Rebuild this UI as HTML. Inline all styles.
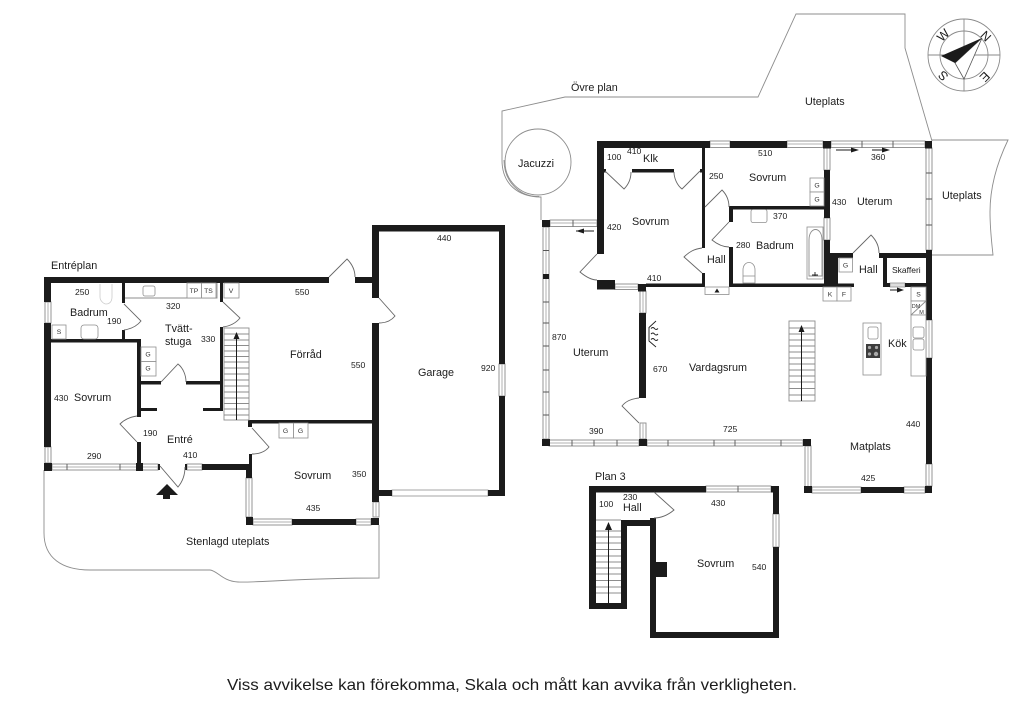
<!DOCTYPE html>
<html><head><meta charset="utf-8"><title>Planritning</title>
<style>
html,body{margin:0;padding:0;background:#fff}
svg{display:block}
text{font-family:"Liberation Sans",Arial,sans-serif;fill:#1c1c1c}
.r{font-size:10.8px}
.d{font-size:8.6px}
.f{font-size:6.8px;text-anchor:middle;fill:#333}
.b{fill:#1b1b1b;stroke:none}
.w{fill:#fff;stroke:#8a8a8a;stroke-width:.9}
.m{stroke:#b0b0b0;stroke-width:1;fill:none}
.t{stroke:#555;stroke-width:.9;fill:none}
.l{stroke:#8d8d8d;stroke-width:.9;fill:none}
.x{fill:#fff;stroke:#8f8f8f;stroke-width:.8}
.door{fill:none;stroke:#666;stroke-width:.9}
.a{stroke:#1b1b1b;stroke-width:1;fill:none}
.ah{fill:#1b1b1b;stroke:none}
</style></head>
<body>
<svg xmlns="http://www.w3.org/2000/svg" width="1024" height="724" viewBox="0 0 1024 724">
<rect width="1024" height="724" fill="#fff"/>

<!-- Outdoor lines -->
<path class="l" d="M44 470V533C44 558 62 570 90 570H210C218 571 222 581 238 582C255 583 300 578 379 578V525"/>
<path class="l" d="M541 220V197C518 197 502 184 502 160V111L565 97H758L796 14H905V48L932 141"/>
<path class="l" d="M539 196.500C520 197 504 182 504 160"/>
<path class="l" d="M932 140H1008C996 165 990 190 990 212C990 230 992 245 993 255H932"/>
<circle class="l" cx="538" cy="162" r="33"/>

<!-- LEFT PLAN: windows -->
<rect class="w" x="45" y="302" width="6" height="21"/><line class="m" x1="48" y1="302" x2="48" y2="323"/>
<rect class="w" x="45" y="447" width="6" height="16"/><line class="m" x1="48" y1="447" x2="48" y2="463"/>
<rect class="w" x="52" y="464" width="85" height="6"/><line class="m" x1="52" y1="467" x2="137" y2="467"/>
<line class="t" x1="67" y1="464" x2="67" y2="470"/><line class="t" x1="120" y1="464" x2="120" y2="470"/>
<rect class="w" x="142" y="464" width="16" height="6"/><line class="m" x1="142" y1="467" x2="158" y2="467"/>
<rect class="w" x="187" y="464" width="15" height="6"/><line class="m" x1="187" y1="467" x2="202" y2="467"/>
<rect class="w" x="246" y="478" width="6" height="39"/><line class="m" x1="249" y1="478" x2="249" y2="517"/>
<rect class="w" x="253" y="519" width="39" height="6"/><line class="m" x1="253" y1="522" x2="292" y2="522"/>
<rect class="w" x="356" y="519" width="15" height="6"/><line class="m" x1="356" y1="522" x2="371" y2="522"/>
<rect class="w" x="373" y="502" width="6" height="15"/><line class="m" x1="376" y1="502" x2="376" y2="517"/>
<rect class="w" x="499" y="364" width="6" height="32"/><line class="m" x1="502" y1="364" x2="502" y2="396"/>
<rect class="x" x="392" y="490" width="96" height="6"/>

<!-- LEFT PLAN: walls -->
<g class="b">
<rect x="44" y="277" width="285" height="6"/><rect x="355" y="277" width="18" height="6"/>
<rect x="44" y="277" width="7" height="25"/><rect x="44" y="323" width="7" height="124"/><rect x="44" y="463" width="8" height="8"/>
<rect x="122" y="283" width="3" height="20"/><rect x="122" y="330" width="3" height="10"/>
<rect x="51" y="339" width="90" height="3.500"/>
<rect x="137" y="339" width="4" height="78"/><rect x="137" y="442" width="4" height="22"/><rect x="136" y="463" width="7" height="8"/>
<rect x="141" y="381" width="20" height="3.500"/><rect x="186" y="381" width="36" height="3.500"/>
<rect x="220" y="283" width="3" height="19"/><rect x="220" y="327" width="3" height="84"/>
<rect x="140" y="408" width="17" height="3"/><rect x="203" y="408" width="20" height="3"/>
<rect x="158" y="464" width="2" height="6"/><rect x="185" y="464" width="2" height="6"/>
<rect x="202" y="464" width="50" height="6"/><rect x="246" y="464" width="6" height="14"/>
<rect x="249" y="454" width="3" height="12"/>
<rect x="248" y="420" width="4" height="7"/><rect x="248" y="420" width="125" height="3.500"/>
<rect x="246" y="517" width="7" height="8"/><rect x="292" y="519" width="64" height="6"/><rect x="371" y="518" width="8" height="7"/>
<rect x="372" y="225" width="7" height="73"/><rect x="372" y="323" width="7" height="179"/>
<rect x="372" y="225" width="133" height="6.500"/>
<rect x="499" y="225" width="6" height="139"/><rect x="499" y="396" width="6" height="100"/>
<rect x="379" y="490" width="13" height="6"/><rect x="488" y="490" width="17" height="6"/>
</g>

<!-- LEFT PLAN: doors -->
<path class="door" d="M124 304L141 321C137 326 131 329 124 330"/>
<path class="door" d="M223 302L240 318C236 323 230 326 223 327"/>
<path class="door" d="M161 382L178 364C183 368 186 375 186 382"/>
<path class="door" d="M137 416C130 417 124 420 120 424L137 442"/>
<path class="door" d="M160 466L178 487C183 481 185 475 185 467"/>
<path class="door" d="M252 428L269 447C265 452 259 454 252 454"/>
<path class="door" d="M329 277L347 259C352 264 355 270 355 277"/>
<path class="door" d="M379 298L395 316C391 321 385 323 379 323"/>
<path class="ah" d="M156 495L167 484L178 495H170V499H163V495Z"/>

<!-- LEFT PLAN: stairs -->
<g class="l">
<rect x="224" y="328" width="25" height="92"/>
<path d="M224 334H249M224 340H249M224 345.500H249M224 351H249M224 356.500H249M224 362H249M224 368H249M224 374H249M224 380H249M224 386H249M224 392H249M224 398H249M224 403.500H249M224 409H249M224 415H249"/>
</g>
<line class="a" x1="236.500" y1="420" x2="236.500" y2="336"/>
<path class="ah" d="M236.500 332L233.500 339H239.500Z"/>

<!-- LEFT PLAN: fixtures -->
<g>
<path class="l" d="M125 298H217V283"/>
<rect class="x" x="187" y="283" width="14.500" height="15"/><rect class="x" x="201.500" y="283" width="14.500" height="15"/>
<rect class="x" x="224" y="283" width="15" height="15"/>
<rect class="x" x="143" y="286" width="12" height="10" rx="2"/>
<rect class="x" x="52" y="325" width="14" height="14"/>
<rect class="x" x="81" y="325" width="17" height="14" rx="3"/>
<path d="M100 284V297C100 301 104 304 106 304C110 304 112 301 112 297V284" fill="none" stroke="#ccc" stroke-width=".8"/>
<rect class="x" x="141" y="347" width="15" height="14.500"/><rect class="x" x="141" y="361.500" width="15" height="14.500"/>
<rect class="x" x="279" y="423" width="14.500" height="15"/><rect class="x" x="293.500" y="423" width="14.500" height="15"/>
</g>
<text class="f" x="194" y="293">TP</text><text class="f" x="208.500" y="293">TS</text><text class="f" x="231" y="293">V</text>
<text class="f" x="59" y="334">S</text><text class="f" x="148" y="356.500">G</text><text class="f" x="148" y="370.500">G</text>
<text class="f" x="285.500" y="433">G</text><text class="f" x="300.500" y="433">G</text>

<!-- LEFT PLAN: text -->
<text class="r" x="51" y="269">Entréplan</text>
<text class="r" x="70" y="316">Badrum</text>
<text class="r" x="165" y="332">Tvätt-</text><text class="r" x="165" y="345">stuga</text>
<text class="r" x="74" y="401">Sovrum</text>
<text class="r" x="167" y="443">Entré</text>
<text class="r" x="290" y="358">Förråd</text>
<text class="r" x="418" y="376">Garage</text>
<text class="r" x="294" y="479">Sovrum</text>
<text class="r" x="186" y="545">Stenlagd uteplats</text>
<text class="d" x="75" y="295">250</text><text class="d" x="107" y="324">190</text><text class="d" x="166" y="309">320</text>
<text class="d" x="201" y="342">330</text><text class="d" x="54" y="401">430</text><text class="d" x="143" y="436">190</text>
<text class="d" x="87" y="459">290</text><text class="d" x="183" y="458">410</text>
<text class="d" x="295" y="295">550</text><text class="d" x="351" y="368">550</text><text class="d" x="352" y="477">350</text>
<text class="d" x="306" y="511">435</text><text class="d" x="437" y="241">440</text><text class="d" x="481" y="371">920</text>

<!-- MAIN PLAN: windows -->
<rect class="w" x="543" y="227" width="6" height="212"/><line class="m" x1="546" y1="227" x2="546" y2="439"/>
<path class="t" d="M543 250.500H549M543 302H549M543 323H549M543 346H549M543 370H549M543 392H549M543 415H549"/>
<rect class="w" x="550" y="220" width="47" height="6.500"/><line class="m" x1="550" y1="223" x2="597" y2="223"/><line class="t" x1="573" y1="220" x2="573" y2="226.500"/>
<rect class="w" x="549" y="440" width="90" height="6"/><line class="m" x1="549" y1="443" x2="639" y2="443"/>
<path class="t" d="M572 440V446M594 440V446M617 440V446"/>
<rect class="w" x="647" y="440" width="156" height="6"/><line class="m" x1="647" y1="443" x2="803" y2="443"/>
<path class="t" d="M668 440V446M714 440V446M735 440V446M781 440V446"/>
<rect class="w" x="805" y="446" width="6" height="41"/><line class="m" x1="808" y1="446" x2="808" y2="487"/>
<rect class="w" x="812" y="487" width="49" height="6"/><line class="m" x1="812" y1="490" x2="861" y2="490"/>
<rect class="w" x="904" y="487" width="21" height="6"/><line class="m" x1="904" y1="490" x2="925" y2="490"/>
<rect class="w" x="926" y="464" width="6" height="22"/><line class="m" x1="929" y1="464" x2="929" y2="486"/>
<rect class="w" x="926" y="320" width="6" height="38"/><line class="m" x1="929" y1="320" x2="929" y2="358"/>
<rect class="w" x="926" y="148" width="6" height="102"/><line class="m" x1="929" y1="148" x2="929" y2="250"/>
<path class="t" d="M926 173H932M926 199H932M926 225H932"/>
<rect class="w" x="831" y="141" width="94" height="6.500"/><line class="m" x1="831" y1="144" x2="925" y2="144"/>
<path class="t" d="M862 141V147.500M893 141V147.500"/>
<rect class="w" x="787" y="141" width="36" height="6.500"/><line class="m" x1="787" y1="144" x2="823" y2="144"/>
<rect class="w" x="710" y="141" width="20" height="6.500"/><line class="m" x1="710" y1="144" x2="730" y2="144"/>
<rect class="w" x="824" y="148" width="6" height="22"/><line class="m" x1="827" y1="148" x2="827" y2="170"/>
<rect class="w" x="824" y="218" width="6" height="22"/><line class="m" x1="827" y1="218" x2="827" y2="240"/>
<rect class="w" x="615" y="284" width="23" height="5.500"/><line class="m" x1="615" y1="287" x2="638" y2="287"/>
<rect class="w" x="640" y="291" width="6" height="22"/><line class="m" x1="643" y1="291" x2="643" y2="313"/>
<rect class="w" x="640" y="423" width="6" height="16"/><line class="m" x1="643" y1="423" x2="643" y2="439"/>
<rect class="x" x="890" y="283" width="15" height="4" style="fill:#ddd"/>

<!-- MAIN PLAN: walls -->
<g class="b">
<rect x="597" y="141" width="113" height="7"/><rect x="730" y="141" width="57" height="7"/>
<rect x="823" y="141" width="8" height="7.500"/><rect x="925" y="141" width="7" height="7.500"/>
<rect x="597" y="141" width="7" height="113"/>
<rect x="702" y="148" width="3" height="100"/><rect x="702" y="273" width="3" height="14"/>
<rect x="604" y="169" width="2" height="3.500"/><rect x="700" y="169" width="2" height="3.500"/>
<rect x="632" y="169" width="42" height="3.500"/>
<rect x="597" y="280" width="18" height="9.500"/><rect x="638" y="284" width="8" height="7.500"/>
<rect x="646" y="283.500" width="56" height="3.500"/>
<rect x="729" y="283.500" width="125" height="3.500"/>
<rect x="729" y="206" width="95" height="3.500"/><rect x="729" y="206" width="4" height="16"/><rect x="729" y="247" width="4" height="40"/>
<rect x="824" y="170" width="6" height="48"/><rect x="824" y="240" width="6" height="47"/>
<rect x="824" y="253" width="14" height="34"/>
<rect x="830" y="253" width="23" height="5"/><rect x="879" y="253" width="47" height="5"/>
<rect x="883" y="258" width="4" height="28"/><rect x="883" y="283" width="7" height="4"/><rect x="905" y="283" width="21" height="4"/>
<rect x="926" y="250" width="6" height="70"/><rect x="926" y="358" width="6" height="106"/><rect x="925" y="486" width="7" height="7"/>
<rect x="861" y="487" width="43" height="6"/><rect x="804" y="486" width="8" height="7"/>
<rect x="803" y="439" width="8" height="7"/><rect x="639" y="439" width="8" height="7"/><rect x="542" y="439" width="8" height="7"/>
<rect x="542" y="220" width="8" height="7"/><rect x="543" y="274" width="6" height="5"/>
<rect x="639" y="313" width="7" height="85"/>
</g>

<!-- MAIN PLAN: doors -->
<path class="door" d="M605 171L624 189C629 184 631 178 631 172"/>
<path class="door" d="M700 171L682 189C677 185 674 178 674 172"/>
<path class="door" d="M597 254L580 272C586 277 592 280 597 280"/>
<path class="door" d="M702 248C694 249 689 252 684 257L702 273"/>
<path class="door" d="M705 207L722 190C727 195 729 201 729 207"/>
<path class="door" d="M729 222L712 240C717 244 723 247 729 247"/>
<path class="door" d="M853 253L871 235C876 240 879 246 879 253"/>
<path class="door" d="M639 398C631 399 626 401 622 406L639 423"/>
<rect class="x" x="705" y="287" width="24" height="7.500"/>
<path class="ah" d="M717 288.500L714.500 292.500H719.500Z"/>

<!-- MAIN PLAN: sliding arrows -->
<line class="a" x1="576" y1="231" x2="594" y2="231"/><path class="ah" d="M576 231L584 228.500V233.500Z"/>
<line class="a" x1="836" y1="150" x2="853" y2="150"/><path class="ah" d="M859 150L851 147.500V152.500Z"/>
<line class="a" x1="872" y1="150" x2="884" y2="150"/><path class="ah" d="M890 150L882 147.500V152.500Z"/>
<line class="a" x1="890" y1="290" x2="898" y2="290"/><path class="ah" d="M904 290L897 287.500V292.500Z"/>

<!-- MAIN PLAN: stairs -->
<g class="l">
<rect x="789" y="321" width="26" height="80"/>
<path d="M789 328H815M789 334H815M789 340H815M789 346H815M789 352H815M789 358H815M789 364H815M789 370H815M789 376H815M789 382H815M789 388.500H815M789 395H815"/>
</g>
<line class="a" x1="801.500" y1="401" x2="801.500" y2="328"/>
<path class="ah" d="M801.500 325L798.500 332H804.500Z"/>

<!-- MAIN PLAN: fixtures -->
<path d="M656 321L649 327.500V341L656 347" fill="none" stroke="#222" stroke-width=".9"/>
<path d="M651 328.500q2 -2 3.500 0t3.500 0M651 334q2 -2 3.500 0t3.500 0M651 339.500q2 -2 3.500 0t3.500 0" fill="none" stroke="#222" stroke-width="1"/>
<rect class="x" x="807" y="227" width="16" height="52"/>
<path class="l" d="M809 276V240C809 226 822 226 822 240V276Z"/>
<path d="M815 276V272M812 275h6" stroke="#222" stroke-width=".9"/>
<rect class="x" x="810" y="178" width="14" height="14"/><rect class="x" x="810" y="192" width="14" height="14"/>
<rect class="x" x="751" y="209.500" width="16" height="13" rx="2"/>
<path d="M743 283V270C743 260 755 260 755 270V283ZM743 276H755" class="x"/>
<rect class="x" x="839" y="258" width="13.500" height="14"/>
<rect class="x" x="823" y="287" width="14" height="14"/><rect class="x" x="837" y="287" width="14" height="14"/>
<rect class="x" x="911" y="287" width="15" height="14"/>
<rect class="x" x="911" y="301" width="15" height="14"/><line class="l" x1="911" y1="315" x2="926" y2="301"/>
<path class="x" d="M911 315V376H926V315Z"/>
<rect class="x" x="913" y="327" width="11" height="11" rx="2"/><rect class="x" x="913" y="339" width="11" height="11" rx="2"/>
<rect class="x" x="863" y="323" width="18" height="52"/>
<rect class="x" x="868" y="327" width="10" height="12" rx="2"/>
<rect x="866" y="344" width="14" height="14" fill="#3d3d3d"/>
<circle cx="869.500" cy="347.500" r="1.600" fill="#aaa"/><circle cx="876.500" cy="347.500" r="1.600" fill="#aaa"/><circle cx="869.500" cy="354" r="1.600" fill="#aaa"/><circle cx="876" cy="354" r="2.200" fill="#aaa"/>
<text class="f" x="830" y="296.500">K</text><text class="f" x="844" y="296.500">F</text><text class="f" x="918.500" y="296.500">S</text>
<text class="f" x="845.500" y="267.500">G</text><text class="f" x="817" y="187.500">G</text><text class="f" x="817" y="201.500">G</text>
<text class="f" x="916" y="308" style="font-size:5.500px">DM</text><text class="f" x="921.500" y="314" style="font-size:5.500px">M</text>

<!-- MAIN PLAN: text -->
<text class="r" x="571" y="91">Övre plan</text>
<text class="r" x="805" y="105">Uteplats</text>
<text class="r" x="942" y="199">Uteplats</text>
<text class="r" x="518" y="167">Jacuzzi</text>
<text class="r" x="643" y="162">Klk</text>
<text class="r" x="632" y="225">Sovrum</text>
<text class="r" x="749" y="181">Sovrum</text>
<text class="r" x="857" y="205">Uterum</text>
<text class="r" x="756" y="249">Badrum</text>
<text class="r" x="707" y="263">Hall</text>
<text class="r" x="859" y="273">Hall</text>
<text x="892" y="273" style="font-size:8.500px">Skafferi</text>
<text class="r" x="573" y="356">Uterum</text>
<text class="r" x="689" y="371">Vardagsrum</text>
<text class="r" x="888" y="347">Kök</text>
<text class="r" x="850" y="450">Matplats</text>
<text class="d" x="607" y="160">100</text><text class="d" x="627" y="154">410</text><text class="d" x="709" y="179">250</text>
<text class="d" x="607" y="230">420</text><text class="d" x="647" y="281">410</text>
<text class="d" x="758" y="156">510</text><text class="d" x="871" y="160">360</text><text class="d" x="832" y="205">430</text>
<text class="d" x="773" y="219">370</text><text class="d" x="736" y="248">280</text>
<text class="d" x="552" y="340">870</text><text class="d" x="653" y="372">670</text>
<text class="d" x="589" y="434">390</text><text class="d" x="723" y="432">725</text>
<text class="d" x="906" y="427">440</text><text class="d" x="861" y="481">425</text>

<!-- PLAN 3 -->
<rect class="w" x="706" y="486" width="65" height="6"/><line class="m" x1="706" y1="489" x2="771" y2="489"/><line class="t" x1="738" y1="486" x2="738" y2="492"/>
<rect class="w" x="773" y="514" width="6" height="33"/><line class="m" x1="776" y1="514" x2="776" y2="547"/>
<g class="b">
<rect x="589" y="486" width="117" height="6.500"/><rect x="771" y="486" width="8" height="6.500"/>
<rect x="773" y="486" width="6" height="28"/><rect x="773" y="547" width="6" height="91"/>
<rect x="650" y="632" width="129" height="6"/><rect x="650" y="518" width="6" height="120"/>
<rect x="656" y="562" width="11" height="15"/>
<rect x="621" y="520" width="32" height="6"/><rect x="589" y="486" width="7" height="123"/>
<rect x="621" y="520" width="6" height="89"/><rect x="589" y="603" width="38" height="6"/>
</g>
<path class="door" d="M654 492L674 510C668 515 661 518 654 518"/>
<g class="l">
<path d="M596 520H621M596 531H621M596 537H621M596 543H621M596 549.500H621M596 556H621M596 562H621M596 568H621M596 574H621M596 580.500H621M596 587H621M596 593H621"/>
</g>
<line class="a" x1="608.500" y1="603" x2="608.500" y2="528"/>
<path class="ah" d="M608.500 522L605 530H612Z"/>
<text class="r" x="595" y="480">Plan 3</text>
<text class="r" x="623" y="511">Hall</text>
<text class="r" x="697" y="567">Sovrum</text>
<text class="d" x="599" y="507">100</text><text class="d" x="623" y="500">230</text>
<text class="d" x="711" y="506">430</text><text class="d" x="752" y="570">540</text>

<!-- COMPASS -->
<g fill="none" stroke="#8a8a8a" stroke-width=".9">
<circle cx="964" cy="55" r="36"/><circle cx="964" cy="55" r="24"/>
<path d="M964 19V91M928 55H1000"/>
</g>
<path d="M982 38L964 79L955 63Z" fill="#fff" stroke="#555" stroke-width=".8"/>
<path d="M982 38L941 56L955 63Z" fill="#1b1b1b"/>
<g style="font-size:12.500px" text-anchor="middle">
<text x="0" y="4.500" transform="translate(986 36) rotate(45)">N</text>
<text x="0" y="4.500" transform="translate(985 77) rotate(135)">E</text>
<text x="0" y="4.500" transform="translate(943 76) rotate(-135)">S</text>
<text x="0" y="4.500" transform="translate(943 35) rotate(-45)">W</text>
</g>

<!-- Footer -->
<text x="227" y="690" style="font-size:16px" textLength="570" lengthAdjust="spacingAndGlyphs">Viss avvikelse kan förekomma, Skala och mått kan avvika från verkligheten.</text>
</svg>
</body></html>
